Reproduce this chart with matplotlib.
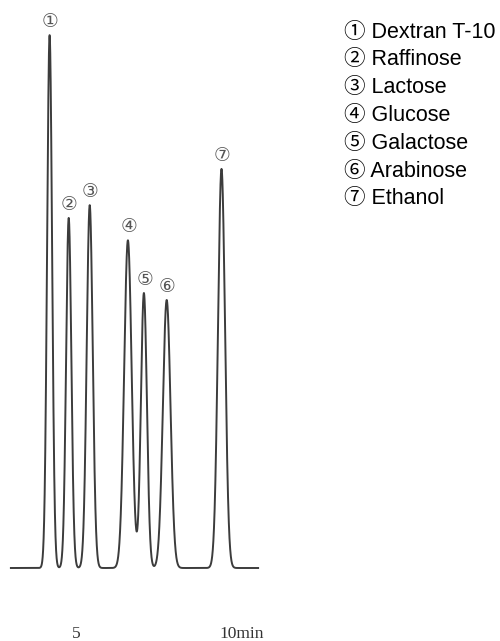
import matplotlib.pyplot as plt
import numpy as np

# peak table: retention time (min), height (arb.), width sigma (min)
marks = ['①', '②', '③', '④', '⑤', '⑥', '⑦']
compounds = ['Dextran T-10', 'Raffinose', 'Lactose', 'Glucose',
             'Galactose', 'Arabinose', 'Ethanol']
rt = [4.12, 4.757, 5.457, 6.73, 7.263, 8.023, 9.85]
height = [100.0, 65.7, 68.1, 61.5, 51.6, 50.3, 74.9]
sigma = [0.083, 0.087, 0.10, 0.125, 0.10, 0.127, 0.117]

t_start, t_end = 2.83, 11.07
tick_pos = [5, 10]
tick_text = ['5', '10min']

t = np.linspace(t_start, t_end, 6000)
signal = np.zeros_like(t)
for r, h, s in zip(rt, height, sigma):
    signal += h * np.exp(-0.5 * ((t - r) / s) ** 2)

fig = plt.figure(figsize=(5.0, 6.41), dpi=100)
ax = fig.add_axes([0, 0, 1, 1])
ax.plot(t, signal, color='#3c3c3c', lw=1.4)
ax.set_xlim(2.4667, 19.133)
ax.set_ylim(-13.7, 106.6)
ax.axis('off')

# circled peak numbers above each peak
for m, r, h in zip(marks, rt, height):
    ax.annotate(m, (r, h), xytext=(0.5, 10), textcoords='offset points',
                ha='center', va='center', fontsize=13.5, color='#555555',
                family=['DejaVu Sans', 'Noto Sans CJK JP'])

# time labels under the trace
for p, lab in zip(tick_pos, tick_text):
    if lab == '5':
        ax.text(p, -12.3, lab, ha='center', va='center',
                family='Liberation Serif', fontsize=12.5, color='#333333')
    else:
        ax.annotate(lab, (p, -12.3), xytext=(-4.5, 0), textcoords='offset points',
                    ha='left', va='center', family='Liberation Serif',
                    fontsize=12.5, color='#333333')

# compound list on the right
for i, (m, name) in enumerate(zip(marks, compounds)):
    y = 1 - (32 + 27.8 * i) / 641
    fig.text(344 / 500, y, m + ' ' + name, ha='left', va='center',
             fontsize=15.5, color='black',
             family=['Liberation Sans', 'Noto Sans CJK JP'])

fig.savefig('out.png', dpi=100)
